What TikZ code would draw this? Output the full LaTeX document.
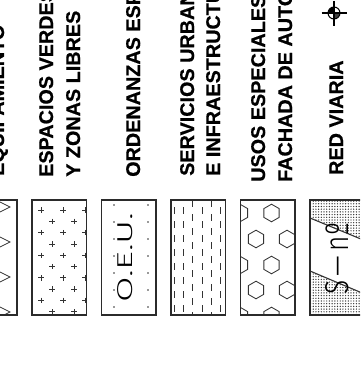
\documentclass[tikz,border=0pt]{standalone}
\usepackage{fontspec}
\setmainfont{Liberation Sans}
\newfontfamily\heavyfont[BoldFeatures={FakeBold=0.5}]{Liberation Sans}
\newfontfamily\thinfont{Fira Sans Light}
\usetikzlibrary{patterns}
\pgfdeclarepatternformonly{densedots}{\pgfqpoint{-1pt}{-1pt}}{\pgfqpoint{1pt}{1pt}}{\pgfqpoint{2.7pt}{2.7pt}}{%
  \pgfpathcircle{\pgfpointorigin}{0.7pt}\pgfusepath{fill}}
\definecolor{ink}{HTML}{000000}
\definecolor{edge}{HTML}{2B2B2B}
\definecolor{pat}{HTML}{333333}
\begin{document}
\begin{tikzpicture}[x=1pt,y=-1pt,
  lbl/.style={font=\heavyfont\bfseries\fontsize{19.8}{24}\selectfont, text=ink, rotate=90, anchor=base west, inner sep=0pt},
  thinlbl/.style={text=ink, rotate=90, anchor=base west, inner sep=0pt},
  swatch/.style={draw=edge, line width=1.5pt},
  patline/.style={draw=pat, line width=0.85pt},
  dotfill/.style={pattern=densedots, pattern color=pat}]
\useasboundingbox (0,0) rectangle (360,382);
\clip (0,0) rectangle (360,382);

% ---------- labels ----------
\node[lbl] (equip) at (4,176) {EQUIPAMIENTO};
\node[lbl] (esp1) at (53,177) {ESPACIOS VERDES};
\node[lbl] (esp2) at (80,177) {Y ZONAS LIBRES};
\node[lbl] (ord) at (140,177) {ORDENANZAS ESPECIALES};
\node[lbl] (serv1) at (194,176) {SERVICIOS URBANOS};
\node[lbl] (serv2) at (220,176) {E INFRAESTRUCTURAS};
\node[lbl] (usos1) at (265,182) {USOS ESPECIALES};
\node[lbl] (usos2) at (292,182) {FACHADA DE AUTOVIA};
\node[lbl] (red) at (343,175) {RED VIARIA};

% ---------- compass mark ----------
\coordinate (cmp) at (334,13);
\fill[ink] (cmp) -- +(180:6) arc[start angle=180, end angle=270, radius=6] -- cycle;
\fill[ink!75] (cmp) -- +(0:6) arc[start angle=0, end angle=90, radius=6] -- cycle;
\draw[ink, line width=1pt] (cmp) circle[radius=6];
\draw[ink, line width=1.4pt] (cmp) +(-12.5,0) -- +(12.5,0) +(0,-12) -- +(0,13);

% ---------- swatch 0 : chevrons ----------
\begin{scope}
\clip (-37.5,200) rectangle (17,315);
\foreach \c in {207,242,277,312}
  \draw[patline] (-20,\c-15) -- (10,\c) -- (-20,\c+15);
\end{scope}
\draw[swatch] (-37.5,200) rectangle (17,315);

% ---------- swatch 1 : crosses ----------
\begin{scope}
\clip (32,200) rectangle (86.5,315);
\foreach \k in {0,2,4,6,8} {
  \pgfmathsetmacro\yy{210+11.3*\k}
  \foreach \xx in {41,63,85}
    \draw[patline, line width=0.8pt] (\xx-2.7,\yy) -- (\xx+2.7,\yy) (\xx,\yy-2.7) -- (\xx,\yy+2.7);
}
\foreach \k in {1,3,5,7,9} {
  \pgfmathsetmacro\yy{210+11.3*\k}
  \foreach \xx in {30,52,74}
    \draw[patline, line width=0.8pt] (\xx-2.7,\yy) -- (\xx+2.7,\yy) (\xx,\yy-2.7) -- (\xx,\yy+2.7);
}
\end{scope}
\draw[swatch] (32,200) rectangle (86.5,315);

% ---------- swatch 2 : O.E.U. ----------
\foreach \k in {0,...,6}
  \foreach \xx in {114,148}
    \fill[pat] (\xx,205+17*\k) circle[radius=0.9];
\node[thinlbl] (oeu) at (132,303) {\resizebox{90pt}{15pt}{\thinfont O.E.U.}};
\draw[swatch] (101.5,200) rectangle (156,315);

% ---------- swatch 3 : dashed lines ----------
\begin{scope}
\clip (171,200) rectangle (225.5,315);
\foreach \xx in {192.9,211.3}
  \draw[patline, dash pattern=on 7pt off 7pt] (\xx,200) -- (\xx,315);
\foreach \xx in {174.5,183.7,202.1,220.5}
  \draw[patline, dash pattern=on 7pt off 7pt] (\xx,207) -- (\xx,315);
\end{scope}
\draw[swatch] (171,200) rectangle (225.5,315);

% ---------- swatch 4 : hexagons ----------
\begin{scope}
\clip (240.5,200) rectangle (295,315);
\foreach \cx/\cy in {240/213,271.5/213,303/213,256/239,287/239,240/265,271.5/265,303/265,256/290,287/290,240/316,271.5/316,303/316}
  \draw[patline] (\cx,\cy) +(90:8.8) -- +(150:8.8) -- +(210:8.8) -- +(270:8.8) -- +(330:8.8) -- +(30:8.8) -- cycle;
\end{scope}
\draw[swatch] (240.5,200) rectangle (295,315);

% ---------- swatch 5 : road ----------
\fill[dotfill] (310,200) -- (364.5,200) -- (364.5,240.5) -- (310,218) -- cycle;
\fill[dotfill] (310,271) -- (364.5,294) -- (364.5,315) -- (310,315) -- cycle;
\draw[patline, line width=1.1pt] (310,218) -- (364.5,240.5);
\draw[patline, line width=1.1pt] (310,271) -- (364.5,294);
\node[thinlbl] (sn) at (348,295) {\resizebox{72pt}{23pt}{\thinfont S\,—\,nº}};
\draw[swatch] (310,200) rectangle (364.5,315);
\end{tikzpicture}
\end{document}
